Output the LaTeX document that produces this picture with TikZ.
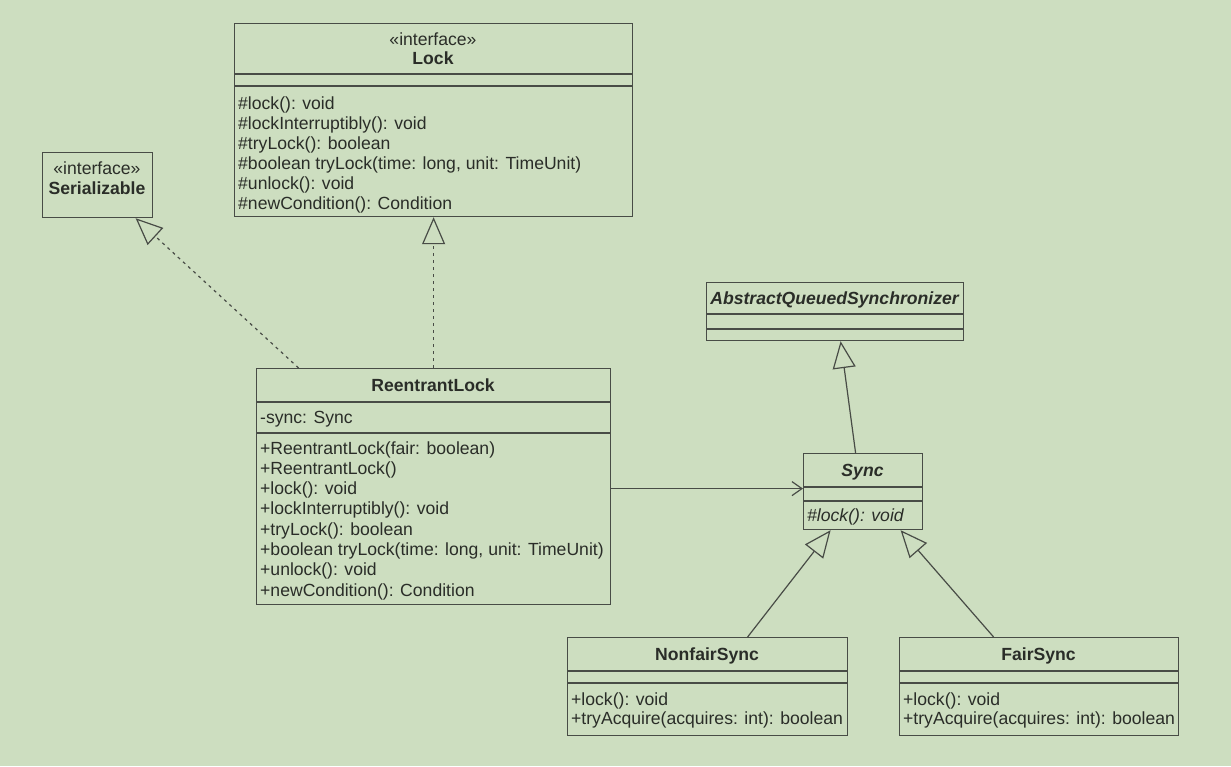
\documentclass[tikz,border=0pt]{standalone}
\usepackage{fontspec}
\setmainfont{Liberation Sans}
\usetikzlibrary{positioning,arrows.meta,calc}
\definecolor{bgc}{RGB}{205,222,192}
\definecolor{linec}{RGB}{72,76,70}
\definecolor{textc}{RGB}{42,45,40}

\begin{document}
\begin{tikzpicture}[
  x=1pt, y=-1pt,
  font=\fontsize{17.6}{20.3}\selectfont,
  cls/.style={draw=linec, line width=1.2pt, anchor=north west, inner sep=0pt},
  sep/.style={draw=linec, line width=1.2pt},
  cname/.style={anchor=base, inner sep=0pt, text=textc, font=\fontsize{17.6}{20.3}\selectfont\bfseries},
  stereo/.style={anchor=base, inner sep=0pt, text=textc},
  member/.style={anchor=base west, inner sep=0pt, text=textc},
  realize/.style={draw=linec, line width=1.2pt, dash pattern=on 3pt off 4pt,
                  -{Triangle[open, length=27pt, width=23pt]}},
  inherit/.style={draw=linec, line width=1.2pt, -{Triangle[open, length=27pt, width=23pt]}},
  assoc/.style={draw=linec, line width=1.2pt, -{Straight Barb[length=10pt, width=14pt]}}
]
\path[use as bounding box, fill=bgc] (0,0) rectangle (1231,766);

% Lock
\node[cls, minimum width=398pt, minimum height=193pt] (lock) at (234,23) {};
\draw[sep] ([yshift=-51pt]lock.north west) -- ([yshift=-51pt]lock.north east);
\draw[sep] ([yshift=-63pt]lock.north west) -- ([yshift=-63pt]lock.north east);
\node[stereo] (lockst) at (433,45) {«interface»};
\node[cname] (locknm) at (433,64.5) {Lock};
\foreach \m [count=\i from 0] in {{\#lock(): void},{\#lockInterruptibly(): void},
    {\#tryLock(): boolean},{\#boolean tryLock(time: long, unit: TimeUnit)},
    {\#unlock(): void},{\#newCondition(): Condition}}
  \node[member] (lockop\i) at (238,{109+20*\i}) {\m};

% Serializable
\node[cls, minimum width=110pt, minimum height=65pt] (serial) at (42,152) {};
\node[stereo] (serialst) at (97,174) {«interface»};
\node[cname] (serialnm) at (97,194) {Serializable};

% ReentrantLock
\node[cls, minimum width=354pt, minimum height=236pt] (rlock) at (256,368) {};
\draw[sep] ([yshift=-34pt]rlock.north west) -- ([yshift=-34pt]rlock.north east);
\draw[sep] ([yshift=-65pt]rlock.north west) -- ([yshift=-65pt]rlock.north east);
\node[cname] (rlocknm) at (433,391) {ReentrantLock};
\node[member] (rlockfd) at (260,423.5) {-sync: Sync};
\foreach \m [count=\i from 0] in {{+ReentrantLock(fair: boolean)},{+ReentrantLock()},
    {+lock(): void},{+lockInterruptibly(): void},{+tryLock(): boolean},
    {+boolean tryLock(time: long, unit: TimeUnit)},{+unlock(): void},
    {+newCondition(): Condition}}
  \node[member] (rlockop\i) at (260,{454+20.3*\i}) {\m};

% AbstractQueuedSynchronizer
\node[cls, minimum width=257pt, minimum height=58pt] (aqs) at (706,282) {};
\draw[sep] ([yshift=-32pt]aqs.north west) -- ([yshift=-32pt]aqs.north east);
\draw[sep] ([yshift=-47pt]aqs.north west) -- ([yshift=-47pt]aqs.north east);
\node[cname, font=\fontsize{17.6}{20.3}\selectfont\bfseries\itshape] (aqsnm) at (834.5,304)
  {AbstractQueuedSynchronizer};

% Sync
\node[cls, minimum width=119pt, minimum height=76pt] (sync) at (803,453) {};
\draw[sep] ([yshift=-34pt]sync.north west) -- ([yshift=-34pt]sync.north east);
\draw[sep] ([yshift=-48pt]sync.north west) -- ([yshift=-48pt]sync.north east);
\node[cname, font=\fontsize{17.6}{20.3}\selectfont\bfseries\itshape] (syncnm) at (862.5,476) {Sync};
\node[member, font=\fontsize{17.6}{20.3}\selectfont\itshape] (syncop) at (807,521) {\#lock(): void};

% NonfairSync
\node[cls, minimum width=280pt, minimum height=98pt] (nfsync) at (567,637) {};
\draw[sep] ([yshift=-34pt]nfsync.north west) -- ([yshift=-34pt]nfsync.north east);
\draw[sep] ([yshift=-46pt]nfsync.north west) -- ([yshift=-46pt]nfsync.north east);
\node[cname] (nfsyncnm) at (707,660) {NonfairSync};
\node[member] (nfsyncop1) at (571,705) {+lock(): void};
\node[member] (nfsyncop2) at (571,724.5) {+tryAcquire(acquires: int): boolean};

% FairSync
\node[cls, minimum width=279pt, minimum height=98pt] (fsync) at (899,637) {};
\draw[sep] ([yshift=-34pt]fsync.north west) -- ([yshift=-34pt]fsync.north east);
\draw[sep] ([yshift=-46pt]fsync.north west) -- ([yshift=-46pt]fsync.north east);
\node[cname] (fsyncnm) at (1038.5,660) {FairSync};
\node[member] (fsyncop1) at (903,705) {+lock(): void};
\node[member] (fsyncop2) at (903,724.5) {+tryAcquire(acquires: int): boolean};

% relations
\draw[realize] ([xshift=-135pt]rlock.north) -- ([xshift=38pt]serial.south);
\draw[realize] (rlock.north) -- (rlock.north |- lock.south);
\draw[inherit] ([xshift=-7.5pt]sync.north) -- ([xshift=5.5pt]aqs.south);
\draw[inherit] ([xshift=40pt]nfsync.north) -- ([xshift=-32.5pt]sync.south);
\draw[inherit] ([xshift=-45.5pt]fsync.north) -- ([xshift=37.5pt]sync.south);
\draw[assoc] ([yshift=-2pt]rlock.east) -- ([yshift=3pt]sync.west);
\end{tikzpicture}
\end{document}
